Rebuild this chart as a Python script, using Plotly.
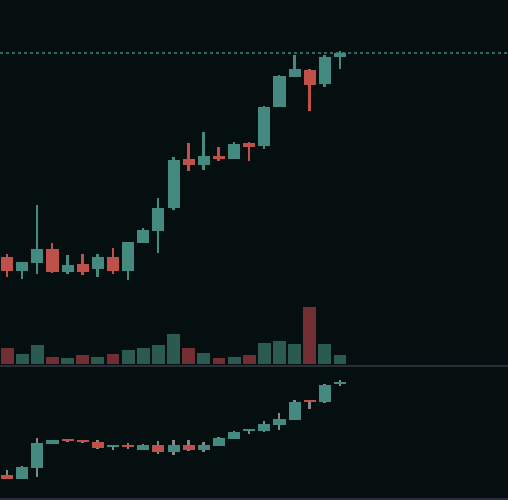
import plotly.graph_objects as go

top_open  = [243,229,237,251,228,236,231,243,229,257,269,292,341,335,344,341,357,354,393,423,430,416,443]
top_close = [229,238,251,228,235,228,243,229,258,270,292,340,335,344,341,356,353,393,424,431,415,443,447]
top_high  = [246,238,295,257,245,246,246,252,258,272,302,343,357,368,353,358,358,394,425,445,431,445,449]
top_low   = [223,221,226,227,226,225,223,226,220,257,247,290,329,330,339,341,339,351,393,423,389,413,431]
last_price = 447
volume = [16,10,19,7,6,9,7,10,14,16,19,30,16,11,6,7,9,21,23,20,57,20,9]
bot_open  = [25,21,32,56,61,60,58,53,55,50,55,48,55,50,54,61,69,69,75,80,100,98,116]
bot_close = [21,33,57,60,59,58,52,55,53,55,48,55,50,55,62,68,71,76,81,98,98,115,118]
bot_high  = [30,34,62,60,61,60,60,55,57,56,59,60,60,58,63,69,71,79,87,100,100,116,120]
bot_low   = [21,21,23,56,58,57,51,50,51,50,46,45,49,48,54,61,66,68,70,80,91,97,114]

G, R = "#448a80", "#c0504a"
VG, VR = "#2a5a50", "#722f33"
x = list(range(len(top_open)))

fig = go.Figure()

def candles(o, c, h, l, yaxis, wick_grey):
    cols = [G if cc >= oo else R for oo, cc in zip(o, c)]
    wcols = ["#888888"] * len(o) if wick_grey else cols
    fig.add_trace(go.Bar(x=x, y=[hh - ll for hh, ll in zip(h, l)], base=l, width=0.13,
                         marker=dict(color=wcols, line=dict(width=0)), yaxis=yaxis, hoverinfo="skip"))
    fig.add_trace(go.Bar(x=x, y=[max(abs(cc - oo), 1) for oo, cc in zip(o, c)],
                         base=[min(oo, cc) for oo, cc in zip(o, c)], width=0.8,
                         marker=dict(color=cols, line=dict(width=0)), yaxis=yaxis, hoverinfo="skip"))

vcols = [VG if cc >= oo else VR for oo, cc in zip(top_open, top_close)]
fig.add_trace(go.Bar(x=x, y=volume, width=0.85, marker=dict(color=vcols, line=dict(width=0)),
                     yaxis="y2", hoverinfo="skip"))
candles(top_open, top_close, top_high, top_low, "y", False)
candles(bot_open, bot_close, bot_high, bot_low, "y3", True)

fig.add_shape(type="line", xref="paper", x0=0, x1=1, yref="y", y0=last_price, y1=last_price,
              line=dict(color="#3f8a80", width=1.5, dash="dot"))
fig.add_shape(type="line", xref="paper", x0=0, x1=1, yref="paper", y0=134/500, y1=134/500,
              line=dict(color="#2a2e39", width=2))
fig.add_shape(type="line", xref="paper", x0=0, x1=1, yref="paper", y0=1/500, y1=1/500,
              line=dict(color="#2a2e39", width=2))

ax = dict(visible=False, showgrid=False, zeroline=False, fixedrange=True)
fig.update_layout(
    width=508, height=500, margin=dict(l=0, r=0, t=0, b=0),
    paper_bgcolor="#060f0f", plot_bgcolor="#060f0f",
    showlegend=False, barmode="overlay", bargap=0,
    xaxis=dict(range=[-0.47, 33.1], **ax),
    yaxis=dict(domain=[135/500, 1], range=[135, 500], **ax),
    yaxis2=dict(domain=[135/500, 1], range=[-1, 364], overlaying="y", **ax),
    yaxis3=dict(domain=[0, 135/500], range=[0, 135], **ax),
)
fig.write_html("out.html", config={"displayModeBar": False},
               post_script="document.body.style.margin='0';document.body.style.background='#060f0f';document.body.style.overflow='hidden';")
